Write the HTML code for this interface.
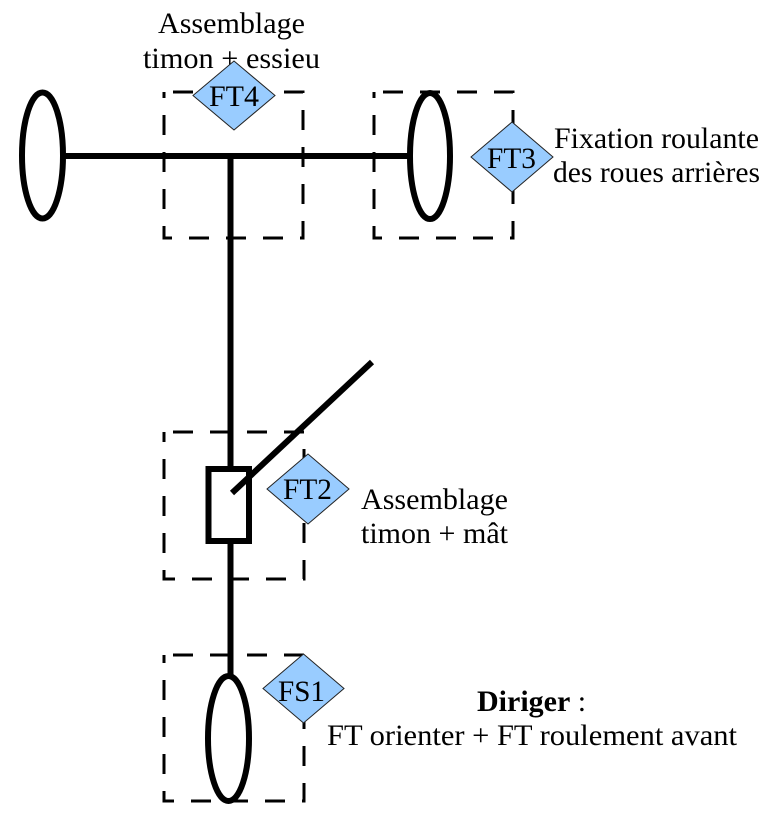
<!DOCTYPE html>
<html>
<head>
<meta charset="utf-8">
<style>
  html, body { margin: 0; padding: 0; background: #ffffff; }
  body { width: 770px; height: 818px; overflow: hidden; }
  svg { display: block; }
  svg text { font-family: "Liberation Serif", "DejaVu Serif", serif; font-size: 30px; fill: #000; }
</style>
</head>
<body>
<svg width="770" height="818" viewBox="0 0 770 818" xmlns="http://www.w3.org/2000/svg" font-family="Liberation Serif, serif">
  <!-- dashed boxes -->
  <g fill="none" stroke="#000" stroke-width="3" stroke-dasharray="20 17">
    <rect x="164" y="92" width="139" height="146" stroke-dashoffset="-9"/>
    <rect x="374" y="92" width="139" height="146" stroke-dashoffset="-9"/>
    <rect x="164" y="432" width="140" height="147" stroke-dashoffset="-9"/>
    <rect x="164" y="655" width="140" height="146" stroke-dashoffset="-9"/>
  </g>

  <!-- mechanism -->
  <g fill="none" stroke="#000" stroke-width="6">
    <line x1="63" y1="156" x2="410" y2="156"/>
    <line x1="230.5" y1="156" x2="230.5" y2="676"/>
    <ellipse cx="42.5" cy="155.5" rx="20.5" ry="63"/>
    <ellipse cx="430" cy="156" rx="20" ry="63"/>
    <ellipse cx="228.5" cy="738.5" rx="20.5" ry="62.5"/>
    <rect x="208.5" y="469" width="40.5" height="72" fill="#fff"/>
    <line x1="232" y1="493" x2="372" y2="362"/>
  </g>

  <!-- labels -->
  <text font-family="Liberation Serif, serif" x="158" y="33" textLength="147" lengthAdjust="spacingAndGlyphs">Assemblage</text>
  <text font-family="Liberation Serif, serif" x="143" y="68" textLength="177" lengthAdjust="spacingAndGlyphs">timon + essieu</text>

  <text font-family="Liberation Serif, serif" x="554" y="148" textLength="205" lengthAdjust="spacingAndGlyphs">Fixation roulante</text>
  <text font-family="Liberation Serif, serif" x="553" y="182" textLength="207" lengthAdjust="spacingAndGlyphs">des roues arrières</text>

  <text font-family="Liberation Serif, serif" x="361" y="509" textLength="147" lengthAdjust="spacingAndGlyphs">Assemblage</text>
  <text font-family="Liberation Serif, serif" x="361" y="543" textLength="147" lengthAdjust="spacingAndGlyphs">timon + mât</text>

  <text font-family="Liberation Serif, serif" x="477" y="711"><tspan font-weight="bold">Diriger</tspan> :</text>
  <text font-family="Liberation Serif, serif" x="327" y="745" textLength="410" lengthAdjust="spacingAndGlyphs">FT orienter + FT roulement avant</text>

  <!-- diamonds -->
  <g fill="#99ccff" stroke="#222" stroke-width="1">
    <polygon points="193,95.5 234,61 275,95.5 234,130"/>
    <polygon points="471,157 512,122 553,157 512,192"/>
    <polygon points="267,489 308,454 349,489 308,524"/>
    <polygon points="263,688.5 303.5,654 344,688.5 303.5,723"/>
  </g>
  <text font-family="Liberation Serif, serif" x="209" y="106" textLength="50" lengthAdjust="spacingAndGlyphs">FT4</text>
  <text font-family="Liberation Serif, serif" x="487" y="168" textLength="49" lengthAdjust="spacingAndGlyphs">FT3</text>
  <text font-family="Liberation Serif, serif" x="283" y="499" textLength="49" lengthAdjust="spacingAndGlyphs">FT2</text>
  <text font-family="Liberation Serif, serif" x="278" y="701" textLength="47" lengthAdjust="spacingAndGlyphs">FS1</text>
</svg>
</body>
</html>
